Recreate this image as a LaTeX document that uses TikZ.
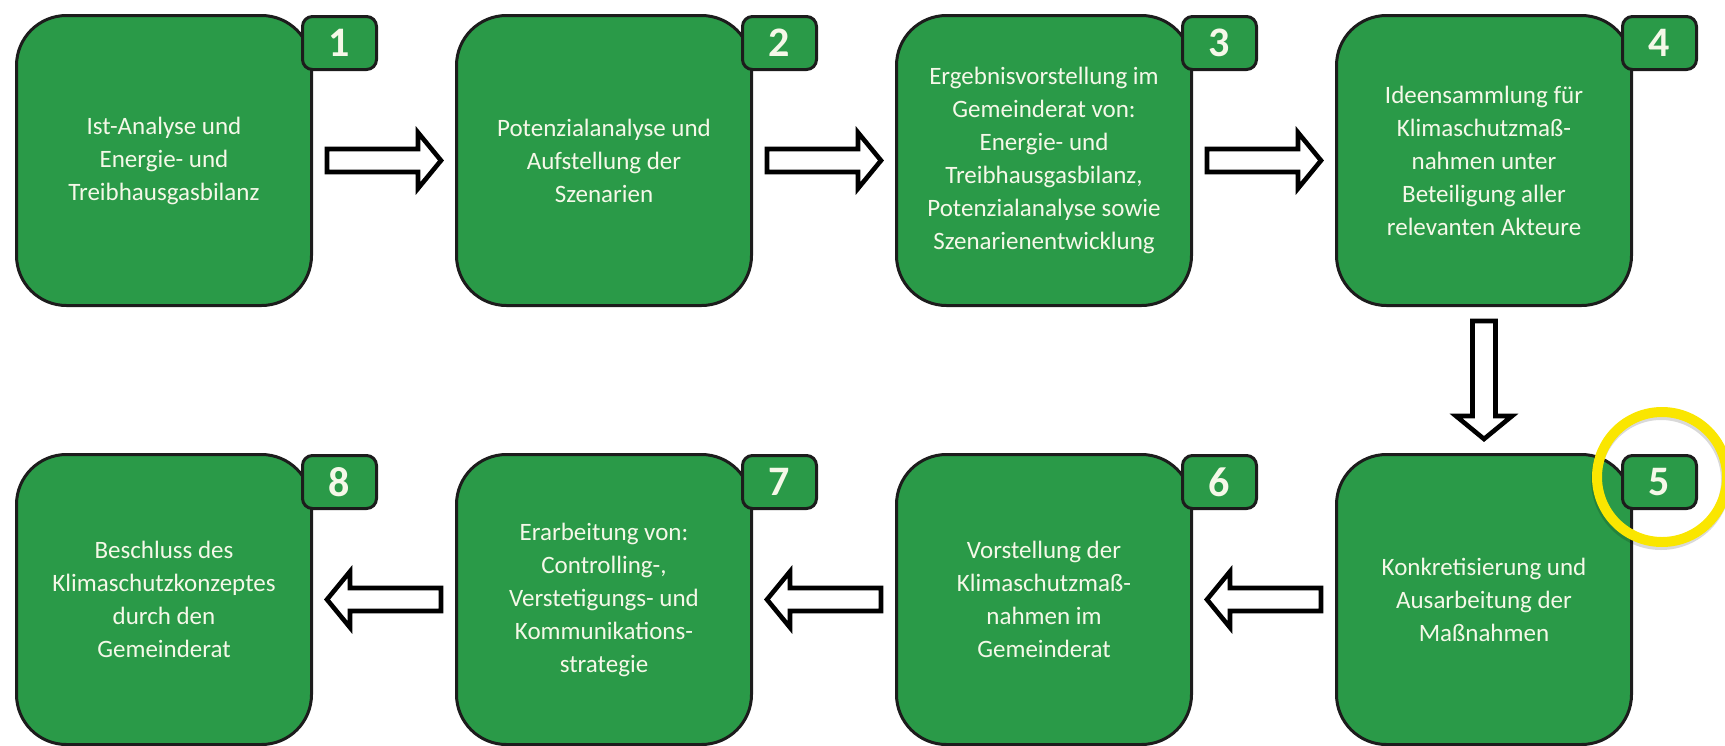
\documentclass[tikz,border=0pt]{standalone}
\usepackage{fontspec}
\setmainfont{Carlito}
\usetikzlibrary{calc}
\definecolor{boxgreen}{RGB}{42,154,72}
\definecolor{edge}{RGB}{28,28,28}
\definecolor{txt}{RGB}{245,248,232}
\definecolor{hlyellow}{RGB}{250,230,0}
\tikzset{
  stepbox/.style={draw=edge, line width=3pt, fill=boxgreen, rounded corners=50pt,
    minimum width=295pt, minimum height=290pt, inner sep=0pt, text=txt, align=center,
    font=\fontsize{25}{33}\selectfont},
  badge/.style={draw=edge, line width=3pt, fill=boxgreen, rounded corners=10pt,
    minimum width=74pt, minimum height=53pt, inner sep=0pt, text=txt,
    font=\fontsize{42}{42}\selectfont\bfseries},
  barrow/.style={draw=black, line width=4.6pt, fill=white, line join=miter, miter limit=10},
  arrowR/.style={barrow, to path={($(\tikztostart)+(14,-11.5)$) -- ($(\tikztotarget)+(-37,-11.5)$)
    -- ($(\tikztotarget)+(-37,-28)$) -- ($(\tikztotarget)+(-14,0)$) -- ($(\tikztotarget)+(-37,28)$)
    -- ($(\tikztotarget)+(-37,11.5)$) -- ($(\tikztostart)+(14,11.5)$) -- cycle}},
  arrowL/.style={barrow, to path={($(\tikztostart)+(-14,-11.5)$) -- ($(\tikztotarget)+(37,-11.5)$)
    -- ($(\tikztotarget)+(37,-28)$) -- ($(\tikztotarget)+(14,0)$) -- ($(\tikztotarget)+(37,28)$)
    -- ($(\tikztotarget)+(37,11.5)$) -- ($(\tikztostart)+(-14,11.5)$) -- cycle}},
  arrowD/.style={barrow, to path={($(\tikztostart)+(-11.5,14)$) -- ($(\tikztotarget)+(-11.5,-37)$)
    -- ($(\tikztotarget)+(-28,-37)$) -- ($(\tikztotarget)+(0,-14)$) -- ($(\tikztotarget)+(28,-37)$)
    -- ($(\tikztotarget)+(11.5,-37)$) -- ($(\tikztostart)+(11.5,14)$) -- cycle}},
}
\begin{document}
\begin{tikzpicture}[x=1pt, y=-1pt]
\useasboundingbox (0,0) rectangle (1725,745);
% top row
\node[stepbox] (b1) at (164,160.5) {Ist-Analyse und\\Energie- und\\Treibhausgasbilanz};
\node[stepbox] (b2) at (604,160.5) {Potenzialanalyse und\\Aufstellung der\\Szenarien};
\node[stepbox] (b3) at (1044,160.5) {Ergebnisvorstellung im\\Gemeinderat von:\\Energie- und\\Treibhausgasbilanz,\\Potenzialanalyse sowie\\Szenarienentwicklung};
\node[stepbox] (b4) at (1484,160.5) {Ideensammlung für\\Klimaschutzmaß-\\nahmen unter\\Beteiligung aller\\relevanten Akteure};
% bottom row
\node[stepbox] (b5) at (1484,599.5) {Konkretisierung und\\Ausarbeitung der\\Maßnahmen};
\node[stepbox] (b6) at (1044,599.5) {Vorstellung der\\Klimaschutzmaß-\\nahmen im\\Gemeinderat};
\node[stepbox] (b7) at (604,599.5) {Erarbeitung von:\\Controlling-,\\Verstetigungs- und\\Kommunikations-\\strategie};
\node[stepbox] (b8) at (164,599.5) {Beschluss des\\Klimaschutzkonzeptes\\durch den\\Gemeinderat};
% badges
\foreach \i in {1,...,8}{
  \node[badge] (n\i) at ($(b\i.north east)+(26.5,29)$) {\i};
}
% arrows
\draw[arrowR] (b1.east) to (b2.west);
\draw[arrowR] (b2.east) to (b3.west);
\draw[arrowR] (b3.east) to (b4.west);
\draw[arrowD] (b4.south) to (b5.north);
\draw[arrowL] (b5.west) to (b6.east);
\draw[arrowL] (b6.west) to (b7.east);
\draw[arrowL] (b7.west) to (b8.east);
% highlight ring
\node[circle, draw=black, opacity=0.15, line width=10pt, minimum size=130pt, inner sep=0pt] (hls) at ($(n5)+(1.5,-2)$) {};
\node[circle, draw=hlyellow, line width=10pt, minimum size=130pt, inner sep=0pt] (hl) at ($(n5)+(2.5,-5)$) {};
\end{tikzpicture}
\end{document}
